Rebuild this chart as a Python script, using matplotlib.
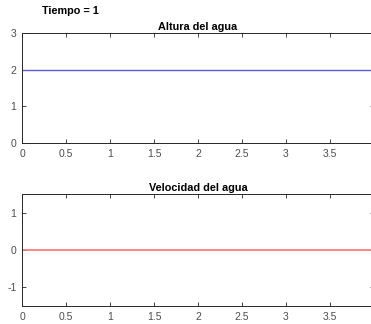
import matplotlib
matplotlib.use("Agg")
import matplotlib.pyplot as plt

plt.rcParams['font.family'] = ['Liberation Sans', 'DejaVu Sans']
plt.rcParams['axes.unicode_minus'] = False

# Water state at the current time step
tiempo = 1
x = [0.0, 4.0]
altura = [2.0, 2.0]
velocidad = [0.0, 0.0]

x_ticks = [0, 0.5, 1, 1.5, 2, 2.5, 3, 3.5, 4]
x_tick_labels = ['0', '0.5', '1', '1.5', '2', '2.5', '3', '3.5', '4']
altura_ticks = [0, 1, 2, 3]
velocidad_ticks = [-1, 0, 1]

W, H = 371, 324
fig = plt.figure(figsize=(W / 100, H / 100), dpi=100)
fig.patch.set_facecolor('white')

axis_color = (0.15, 0.15, 0.15)
label_color = (0.3, 0.3, 0.3)


def px_box(left, top, right, bottom):
    return [left / W, 1 - bottom / H, (right - left) / W, (bottom - top) / H]


def style(ax):
    for s in ax.spines.values():
        s.set_color(axis_color)
        s.set_linewidth(0.7)
    ax.tick_params(direction='in', length=3, width=0.6, color=axis_color,
                   labelcolor=label_color, labelsize=7.5,
                   top=True, right=True, pad=4)
    ax.set_xlim(0, 4)
    ax.set_xticks(x_ticks)
    ax.set_xticklabels(x_tick_labels)


ax1 = fig.add_axes(px_box(22, 33, 374, 143))
ax1.plot(x, altura, color=(0.35, 0.35, 0.85), lw=1.0)
ax1.set_ylim(0, 3)
ax1.set_yticks(altura_ticks)
style(ax1)
ax1.set_title('Altura del agua', fontsize=7.8, fontweight='bold', pad=2.5,
              color='black')

ax2 = fig.add_axes(px_box(22, 194, 374, 306))
ax2.plot(x, velocidad, color=(1.0, 0.45, 0.45), lw=1.2)
ax2.set_ylim(-1.5, 1.5)
ax2.set_yticks(velocidad_ticks)
style(ax2)
ax2.set_title('Velocidad del agua', fontsize=7.8, fontweight='bold', pad=2.5,
              color='black')

fig.text(70 / W, 1 - 11 / H, f'Tiempo = {tiempo}', fontsize=7.8,
         fontweight='bold', ha='center', va='center', color='black')

fig.savefig('out.png', dpi=100, facecolor='white')
